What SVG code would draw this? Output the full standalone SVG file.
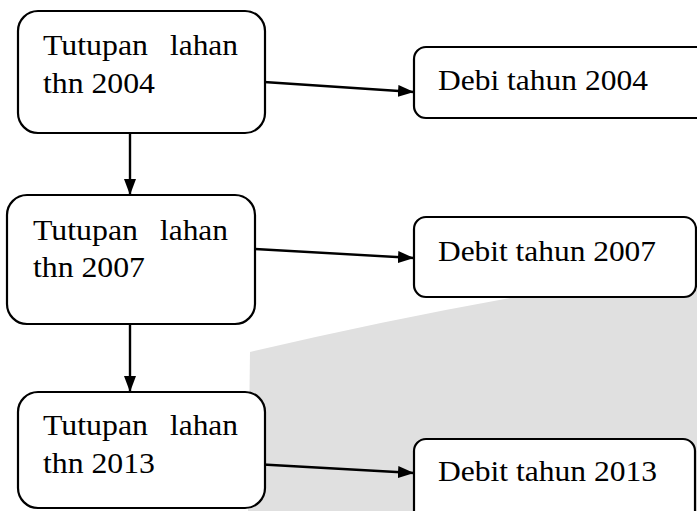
<svg xmlns="http://www.w3.org/2000/svg" width="697" height="511" viewBox="0 0 697 511">
<style>
.box{fill:#fff;stroke:#000;stroke-width:2.2}
text{font-family:'Liberation Serif','Times New Roman',serif;font-size:30px;fill:#000}
.c{stroke:#000;stroke-width:2.4;fill:none;marker-end:url(#ah)}
</style>
<defs>
<marker id="ah" viewBox="0 0 16 12" refX="16" refY="6" markerWidth="16" markerHeight="12" markerUnits="userSpaceOnUse" orient="auto">
<path d="M0,0 L16,6 L0,12 Z" fill="#000"/>
</marker>
</defs>
<rect width="697" height="511" fill="#fff"/>
<path d="M248,511 L250,352 Q470,300 697,268 L697,511 Z" fill="#e0e0e0"/>
<g id="connectors">
<line class="c" x1="264" y1="82" x2="414" y2="92"/>
<line class="c" x1="255" y1="249" x2="414" y2="258"/>
<line class="c" x1="253" y1="464" x2="414" y2="473"/>
<line class="c" x1="130" y1="133" x2="130" y2="195"/>
<line class="c" x1="130" y1="324" x2="130" y2="392"/>
</g>
<g id="lahan2004">
<rect class="box" x="18" y="11" width="247" height="122" rx="20"/>
<text x="43" y="55" textLength="105" lengthAdjust="spacingAndGlyphs">Tutupan</text>
<text x="170" y="55" textLength="68" lengthAdjust="spacingAndGlyphs">lahan</text>
<text x="43" y="93" textLength="112" lengthAdjust="spacingAndGlyphs">thn 2004</text>
</g>
<g id="lahan2007">
<rect class="box" x="7" y="195" width="248" height="129" rx="20"/>
<text x="33" y="240" textLength="105" lengthAdjust="spacingAndGlyphs">Tutupan</text>
<text x="160" y="240" textLength="68" lengthAdjust="spacingAndGlyphs">lahan</text>
<text x="33" y="277" textLength="112" lengthAdjust="spacingAndGlyphs">thn 2007</text>
</g>
<g id="lahan2013">
<rect class="box" x="18" y="392" width="247" height="116" rx="20"/>
<text x="43" y="435" textLength="105" lengthAdjust="spacingAndGlyphs">Tutupan</text>
<text x="170" y="435" textLength="68" lengthAdjust="spacingAndGlyphs">lahan</text>
<text x="43" y="473" textLength="112" lengthAdjust="spacingAndGlyphs">thn 2013</text>
</g>
<g id="debit2004">
<rect class="box" x="414" y="47" width="300" height="71" rx="12"/>
<text x="438" y="90" textLength="210" lengthAdjust="spacingAndGlyphs">Debi tahun 2004</text>
</g>
<g id="debit2007">
<rect class="box" x="414" y="217" width="282" height="80" rx="12"/>
<text x="438" y="261" textLength="218" lengthAdjust="spacingAndGlyphs">Debit tahun 2007</text>
</g>
<g id="debit2013">
<rect class="box" x="414" y="439" width="281" height="90" rx="12"/>
<text x="438" y="481" textLength="219" lengthAdjust="spacingAndGlyphs">Debit tahun 2013</text>
</g>
</svg>
